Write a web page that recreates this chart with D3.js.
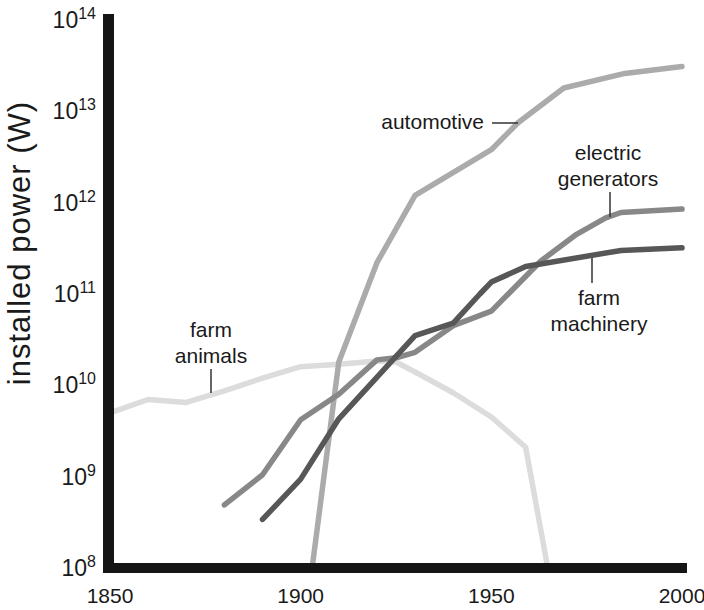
<!DOCTYPE html>
<html>
<head>
<meta charset="utf-8">
<script src="https://d3js.org/d3.v7.min.js"></script>
<style>
  body { margin: 0; background: #fff; }
  text { font-family: "Liberation Sans", Arial, Helvetica, sans-serif; fill: #1a1a1a; }
</style>
</head>
<body>
<div id="chart"></div>
<script>
// data (year, installed power in W)
const animalYears = [1850, 1860, 1870, 1880, 1890, 1900, 1910, 1920, 1925, 1930, 1940, 1950, 1959, 1965];
const animalValues = [5.0e9, 7.0e9, 6.5e9, 8.7e9, 1.2e10, 1.6e10, 1.7e10, 1.85e10, 1.8e10, 1.4e10, 8.3e9, 4.5e9, 2.1e9, 9e7];

const autoYears = [1903, 1910, 1920, 1930, 1950, 1957, 1969, 1985, 2000];
const autoValues = [1e8, 1.8e10, 2.2e11, 1.2e12, 3.8e12, 7.5e12, 1.8e13, 2.6e13, 3.1e13];

const electricYears = [1880, 1890, 1900, 1910, 1920, 1925, 1930, 1940, 1950, 1963, 1972, 1980, 1984, 2000];
const electricValues = [4.9e8, 1.05e9, 4.2e9, 8e9, 1.9e10, 2.0e10, 2.3e10, 4.5e10, 6.5e10, 2.3e11, 4.4e11, 6.8e11, 7.8e11, 8.5e11];

const machineryYears = [1890, 1900, 1910, 1930, 1940, 1947, 1950, 1959, 1984, 2000];
const machineryValues = [3.4e8, 9.4e8, 4.3e9, 3.5e10, 4.8e10, 1.0e11, 1.35e11, 2.0e11, 3.0e11, 3.2e11];

const xTicks = [1850, 1900, 1950, 2000];
const yExponents = [8, 9, 10, 11, 12, 13, 14];

const width = 704, height = 610;

let svg = d3.select("#chart").append("svg")
    .attr("width", width)
    .attr("height", height);

//=================================================
// scales
//=================================================
let scaleX = d3.scaleLinear().domain([1850, 2000]).range([110, 682]);
let scaleY = d3.scaleLog().domain([1e8, 1e14]).range([568, 20]);

//=================================================
// series
//=================================================
svg.append("defs").append("clipPath")
    .attr("id", "plot-clip")
    .append("rect")
    .attr("x", 108).attr("y", 0)
    .attr("width", 590).attr("height", 568);

let plot = svg.append("g").attr("clip-path", "url(#plot-clip)");

let line = d3.line()
    .x(d => scaleX(d[0]))
    .y(d => scaleY(d[1]));

function addSeries(years, values, color) {
    let pts = years.map((y, i) => [y, values[i]]);
    plot.append("path")
        .datum(pts)
        .attr("d", line)
        .attr("fill", "none")
        .attr("stroke", color)
        .attr("stroke-width", 5.5)
        .attr("stroke-linejoin", "round")
        .attr("stroke-linecap", "round");
}

addSeries(animalYears, animalValues, "#dcdcdc");
addSeries(autoYears, autoValues, "#ababab");
addSeries(electricYears, electricValues, "#888888");
addSeries(machineryYears, machineryValues, "#575757");

//=================================================
// axes (thick black bars)
//=================================================
svg.append("line")
    .attr("x1", scaleX(1850) - 1.5).attr("x2", scaleX(1850) - 1.5)
    .attr("y1", 14).attr("y2", 573)
    .attr("stroke", "#151515").attr("stroke-width", 11);

svg.append("line")
    .attr("x1", 103).attr("x2", 687)
    .attr("y1", scaleY(1e8)).attr("y2", scaleY(1e8))
    .attr("stroke", "#151515").attr("stroke-width", 10);

// x tick labels
svg.append("g").selectAll("text")
    .data(xTicks)
    .join("text")
    .attr("x", d => scaleX(d))
    .attr("y", 603)
    .attr("text-anchor", "middle")
    .attr("font-size", 21)
    .text(d => d);

// y tick labels: 10 with superscript exponent
let yLabels = svg.append("g").selectAll("text")
    .data(yExponents)
    .join("text")
    .attr("x", 96)
    .attr("y", d => scaleY(Math.pow(10, d)) + 8)
    .attr("text-anchor", "end")
    .attr("font-size", 23);
yLabels.append("tspan").text("10");
yLabels.append("tspan")
    .attr("dy", -9)
    .attr("font-size", 16)
    .text(d => d);

// y axis title
svg.append("text")
    .attr("transform", "translate(30,243) rotate(-90)")
    .attr("text-anchor", "middle")
    .attr("font-size", 31)
    .attr("letter-spacing", 1)
    .text("installed power (W)");

//=================================================
// series labels with leader lines
//=================================================
let notes = svg.append("g");

function leader(x1, y1, x2, y2) {
    notes.append("line")
        .attr("x1", x1).attr("y1", y1)
        .attr("x2", x2).attr("y2", y2)
        .attr("stroke", "#333").attr("stroke-width", 1.5);
}

function label(x, y, lines, anchor) {
    let t = notes.append("text")
        .attr("x", x).attr("y", y)
        .attr("text-anchor", anchor || "middle")
        .attr("font-size", 21);
    lines.forEach((s, i) => {
        t.append("tspan").attr("x", x).attr("dy", i === 0 ? 0 : 26).text(s);
    });
}

label(211, 337, ["farm", "animals"]);
leader(211, 369, 211, 393);

label(484, 129, ["automotive"], "end");
leader(492, 123, 518, 123);

label(608, 160, ["electric", "generators"]);
leader(610, 192, 610, 217);

label(599, 305, ["farm", "machinery"]);
leader(592, 258, 592, 283);
</script>
</body>
</html>
